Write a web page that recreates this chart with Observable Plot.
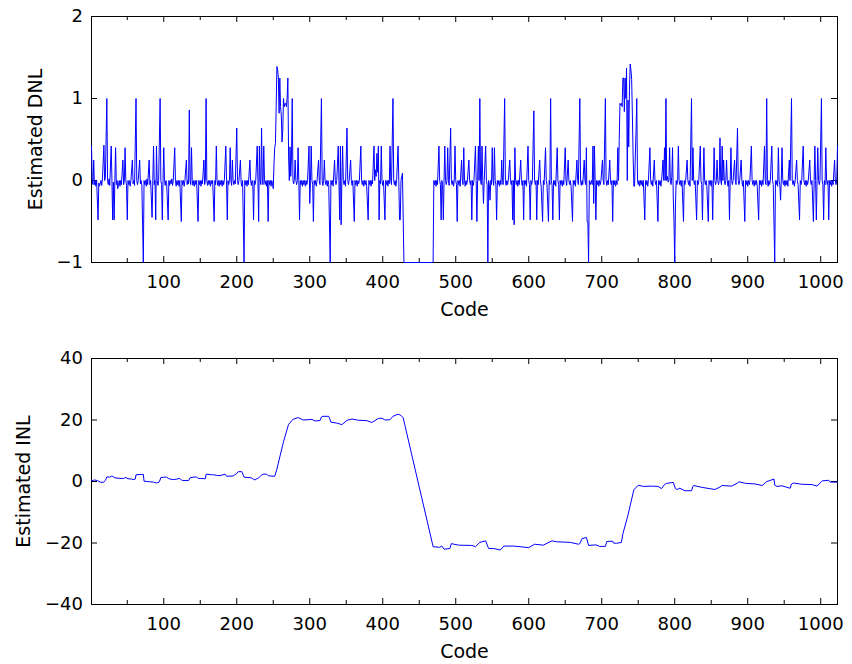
<!DOCTYPE html>
<html>
<head>
<meta charset="utf-8">
<script src="https://cdn.jsdelivr.net/npm/d3@7"></script>
<script src="https://cdn.jsdelivr.net/npm/@observablehq/plot@0.6"></script>
<style>
  html, body { margin: 0; padding: 0; background: #fff; }
  #chart { width: 852px; height: 664px; }
  #chart svg { display: block; }
</style>
</head>
<body>
<div id="chart"></div>
<script>
// ---- axis values ----
const xDomain = [1, 1023];
const xLabelTicks = [100, 200, 300, 400, 500, 600, 700, 800, 900, 1000];
const xMinorTicks = [50, 150, 250, 350, 450, 550, 650, 750, 850, 950];
const dnlDomain = [-1, 2];
const dnlTicks = [-1, 0, 1, 2];
const inlDomain = [-40, 40];
const inlTicks = [-40, -20, 0, 20, 40];
const xTitle = "Code";
const dnlTitle = "Estimated DNL";
const inlTitle = "Estimated INL";

// ---- estimated DNL, [code, value] vertices ----
const dnlPoints = [
[1,0.42],[2,0],[3,-0.05],[4,0.25],[5,-0.05],[6,0],[7,-0.07],[8,0],[10,-0.48],[11,-0.03],[12,-0.07],[14,0],[15,-0.06],[16,0.02],[18,0.43],[19,0],[20,0.03],[22,1.0],[23,0],[24,-0.05],[25,0.02],[26,-0.06],[28,0.42],[29,0],[30,-0.48],[31,-0.02],[32,-0.48],[33,0],[34,0.4],[35,-0.05],[36,0],[37,-0.1],[38,-0.04],[39,0],[40,-0.07],[41,0],[42,-0.05],[44,0.25],[45,-0.05],[46,0],[47,0.4],[48,0],[49,-0.06],[50,-0.48],[51,0],[52,-0.05],[53,0],[54,-0.07],[55,0],[57,0.25],[58,-0.04],[59,0],[60,-0.06],[62,1.0],[63,0],[64,-0.05],[65,0],[67,0.25],[68,-0.04],[69,0],[70,-0.06],[72,-1.0],[73,0],[74,-0.05],[75,0],[76,-0.07],[77,0.02],[78,-0.05],[80,0.25],[81,-0.05],[82,0],[84,-0.45],[85,0],[86,0.42],[87,-0.05],[88,0],[89,-0.48],[90,0.42],[91,0],[92,-0.06],[93,0],[95,1.0],[96,0],[97,-0.05],[98,-0.48],[99,0],[100,0.4],[101,0],[102,-0.06],[103,0],[104,-0.04],[106,-0.48],[107,0],[108,-0.06],[109,0],[110,-0.04],[111,0.02],[112,-0.06],[113,0],[115,0.4],[116,0],[117,-0.07],[118,0],[119,-0.05],[120,0],[121,-0.07],[122,0],[124,-0.5],[125,0],[126,-0.05],[127,0],[128,-0.07],[129,0],[131,0.25],[132,-0.05],[133,0],[134,-0.04],[135,0.86],[136,0],[137,-0.05],[138,0.4],[139,0],[140,-0.06],[141,0],[142,-0.07],[143,0],[144,-0.05],[145,0],[147,-0.5],[148,0],[149,-0.05],[150,0],[151,-0.07],[152,0],[153,-0.04],[155,0.25],[156,-0.05],[157,0],[158,1.0],[159,0],[160,-0.06],[161,0],[162,-0.05],[163,0],[164,-0.07],[165,0],[166,-0.04],[167,0],[169,-0.5],[170,0],[171,-0.05],
[172,0.42],[173,0],[174,-0.06],[175,0],[176,-0.07],[177,0],[178,-0.05],[179,0],[180,-0.07],[181,0],[182,-0.05],[183,0],[185,0.42],[186,0],[187,-0.48],[188,0],[189,-0.05],[190,0],[191,0.4],[192,0],[193,-0.06],[194,0.25],[195,0],[196,-0.05],[197,0],[198,-0.04],[200,0.64],[201,0],[202,-0.05],[203,0],[205,0.25],[206,-0.03],[207,-0.07],[208,0],[210,-1.0],[211,0],[212,-0.05],[213,0],[214,-0.07],[215,0],[216,-0.05],[218,0.25],[219,0],[220,-0.06],[221,0],[222,-0.04],[223,-0.48],[224,0],[225,-0.05],[226,0],[228,0.42],[229,0],[230,-0.5],[231,0.42],[232,0],[233,-0.05],[234,0.64],[235,0],[236,-0.05],[237,0.42],[238,0],[239,-0.05],[240,0],[241,-0.07],[242,0],[243,-0.5],[244,0],[245,-0.05],[246,0],[247,-0.07],[248,0],[249,-0.04],[250,-0.1],[251,0.2],[252,0.4],[253,0.45],[254,0.9],[255,1.39],[256,1.35],[257,1.25],[258,0.82],[259,1.25],[260,0.9],[261,0.8],[262,0.47],[263,0.6],[264,1.0],[265,0.9],[266,0.94],[267,0.94],[268,0.9],[269,1.0],[270,1.25],[271,0.3],[272,0],[273,0.41],[274,0.05],[275,0.3],[276,1.0],[277,0],[278,-0.04],[279,0.02],[280,0.25],[281,0],[282,-0.05],[283,0],[284,0.4],[285,0],[286,-0.48],[287,0],[288,-0.05],[289,0],[290,-0.07],[291,0],[292,-0.05],[293,0],[294,-0.07],[295,0],[296,-0.05],[297,0],[299,0.42],[300,-0.28],[301,0],[302,0.42],[303,0],[304,-0.05],[305,-0.5],[306,0],[307,-0.05],[308,0],[309,-0.07],[310,0],[312,0.25],[313,0],[314,-0.05],[316,1.0],[317,0],[318,-0.06],[319,0],[320,0.25],[321,0],[322,-0.05],[323,0],[324,-0.07],[325,0],[326,-0.05],[328,-1.0],[329,0],[330,-0.05],[331,0],[332,-0.07],[334,0.25],[335,0],[336,-0.05],[337,0],
[339,0.42],[340,0],[341,-0.48],[342,0.42],[343,-0.54],[344,0],[345,0.42],[346,0],[347,-0.05],[348,0],[349,-0.07],[351,0.64],[352,0],[353,-0.05],[354,0],[356,0.25],[357,0],[358,-0.06],[359,0],[361,-0.5],[362,0],[363,-0.05],[364,0],[365,-0.07],[366,0],[367,-0.04],[368,0],[370,0.42],[371,0],[372,-0.05],[373,0],[374,-0.07],[375,0],[376,-0.05],[377,0],[378,-0.07],[380,-0.48],[381,0],[382,-0.05],[383,0],[384,-0.07],[385,0],[386,-0.04],[388,0.42],[389,0],[390,0.13],[391,0.05],[392,0.33],[393,0.1],[394,0.42],[395,-0.48],[396,0],[397,-0.04],[398,0.42],[399,0],[400,-0.06],[401,0],[403,-0.48],[404,0],[405,-0.05],[406,0],[407,-0.07],[408,0],[409,-0.04],[410,0.42],[411,0],[412,-0.05],[414,1.0],[415,0],[416,-0.05],[417,0],[418,-0.07],[419,0],[421,0.42],[422,0],[423,-0.48],[424,-0.48],[425,0],[427,0.09],[429,-1.0],[469,-1.0],[470,0],
[471,-0.05],[472,0],[473,-0.07],[474,0],[475,-0.05],[477,0.42],[478,0],[479,-0.05],[480,-0.48],[481,0],[482,-0.05],[483,-0.48],[484,0],[485,0.42],[486,0],[487,-0.05],[488,0],[489,0.4],[490,0],[491,-0.06],[493,0.64],[494,0],[495,-0.05],[496,0],[497,-0.07],[498,0],[499,0.42],[500,0],[501,-0.05],[502,-0.5],[503,0],[504,-0.05],[505,0],[506,-0.07],[508,0.25],[509,0],[510,-0.05],[511,0.4],[512,0],[513,-0.07],[514,0],[515,-0.05],[516,0],[518,0.25],[519,0],[520,-0.05],[521,0],[522,-0.48],[523,0],[524,-0.06],[525,0],[527,0.42],[528,0],[529,-0.5],[530,0],[531,0.42],[532,0],[533,1.0],[534,0],[535,-0.05],[536,0.42],[537,0],[538,-0.28],[539,0],[541,0.42],[542,0],[543,-0.05],[544,-1.0],[545,0],[546,-0.05],[547,-0.24],[548,0],[549,-0.05],[550,0.4],[551,0],[552,-0.06],[553,0.4],[554,0],[555,-0.05],[556,-0.48],[557,0],[558,-0.05],[559,0],[560,-0.07],[561,0],[562,-0.05],[563,0.25],[564,0],[565,-0.05],[567,1.0],[568,0],[569,-0.06],[570,0],[571,-0.05],[572,0],[574,0.25],[575,0],[576,-0.05],[577,0],[578,-0.48],[579,0],[580,-0.54],[581,0.4],[582,0],[583,-0.05],[584,0],[585,-0.07],[586,0],[587,-0.05],[589,0.25],[590,0],[591,-0.06],[592,0],[593,-0.48],[594,0],[595,-0.05],[596,0],[597,-0.07],[599,0.42],[600,0],[601,-0.05],[602,-0.48],[603,0],[604,-0.05],[605,0],[607,0.85],[608,0],[609,-0.05],[610,0],[611,-0.48],[612,0],[613,-0.05],[615,0.25],[616,0],[617,-0.07],[619,-0.5],[620,0],[621,-0.05],[623,0.4],[624,0],[625,-0.05],[627,-0.5],[628,0],[629,-0.05],[630,1.0],[631,0],[632,-0.06],[633,-0.48],[634,0],[635,-0.05],[636,0],[637,-0.07],[639,0.4],[640,0],[641,-0.05],[642,-0.48],[643,0],[644,-0.05],[645,0],[646,-0.07],[647,0],[648,-0.05],[650,0.4],[651,0],[652,-0.06],[654,0.25],[655,0],[656,-0.05],[657,0],[658,-0.07],[660,-0.5],[661,0],[662,-0.05],[663,0],[664,-0.07],[666,0.25],[667,0],[668,-0.05],[670,1.0],[671,0],[672,-0.06],[673,0],[674,-0.05],[676,0.25],[677,0],[678,-0.05],[679,0.4],[680,-0.5],[681,-0.5],[682,-1.0],[683,0],[684,-0.05],[686,0],[687,-0.05],[688,0.42],[689,-0.28],[690,0.42],[691,0],[692,-0.48],[693,0],[694,-0.05],[695,0],[696,-0.07],[697,0],[698,-0.05],[699,0],[701,0.25],[702,0],[703,-0.05],[705,1.0],[706,0],[707,-0.06],[708,0],[709,-0.05],[711,0.25],[712,0],[713,-0.05],[714,0],[715,-0.5],[716,0],[717,-0.05],[718,0],[719,-0.07],[720,0],[721,-0.05],
[722,0.4],[723,0],[724,0.5],[725,0.94],[726,0.92],[727,0.94],[728,0.9],[729,1.25],[730,1.25],[731,0.84],[732,1.25],[733,1.0],[734,1.37],[735,0],[736,0.98],[737,0.41],[738,1.1],[739,1.42],[740,1.35],[741,1.23],[742,0.8],[743,0.3],[744,-0.07],[745,-0.07],[746,0.3],[747,0.6],[748,1.0],[749,0],[750,-0.05],[751,0],[752,-0.07],[753,0],[754,-0.05],[755,0],[756,-0.07],[757,0],[759,-0.48],[760,0],[761,-0.05],[762,0],[763,-0.07],[764,0],[766,0.4],[767,0],[768,-0.05],[769,0],[770,-0.07],[772,0.25],[773,0],[774,-0.05],[775,0],[777,-0.5],[778,0],[779,-0.05],[780,0],[781,-0.07],[782,0],[784,0.25],[785,0],[786,0.4],[787,0],[788,1.0],[789,0],[790,0.05],[791,-0.02],[792,0],[793,0.4],[794,0],[795,-0.05],[796,0.05],[797,0.4],[798,-0.2],[799,-0.5],[800,-1.0],[801,-0.3],[802,0],[803,-0.05],[804,0],[805,0.42],[806,0],[807,-0.05],[808,0],[809,-0.07],[810,0],[812,-0.5],[813,0],[814,-0.05],[815,0],[817,0.25],[818,0],[819,-0.05],[820,0],[821,-0.07],[823,1.0],[824,0],[825,0.4],[826,0],[827,-0.05],[828,0],[830,-0.48],[831,0],[832,-0.05],[833,0],[835,0.42],[836,0],[837,-0.05],[838,-0.48],[839,0],[840,0.4],[841,0],[842,-0.05],[843,0],[844,-0.07],[846,-0.5],[847,0],[848,-0.05],[849,0],[850,-0.07],[851,0],
[852,-0.48],[853,0],[854,0.4],[855,0],[856,-0.05],[857,0],[858,0.25],[859,0],[860,-0.05],[861,0],[862,0.52],[863,0],[864,-0.05],[865,0.42],[866,0],[867,0.25],[868,0],[869,-0.05],[870,0],[871,0.25],[872,0],[873,-0.07],[874,0],[875,-0.48],[876,0],[877,0.4],[878,0],[879,-0.05],[880,0],[882,0.25],[883,0],[884,-0.05],[886,0.64],[887,0],[888,-0.05],[889,0],[891,0.25],[892,0],[893,-0.07],[894,0],[896,-0.5],[897,0],[898,-0.05],[899,0],[900,-0.07],[901,0],[902,-0.05],[903,0],[905,0.42],[906,0],[907,-0.05],[908,0],[909,-0.07],[910,0],[911,-0.05],[912,0],[913,-0.07],[915,-0.48],[916,0],[917,-0.05],[918,0],[919,-0.07],[920,0],[921,-0.05],[923,0.42],[924,0],[925,-0.05],[926,1.0],[927,0],[928,-0.07],[929,0],[930,-0.05],[931,0],[933,0.42],[934,0],[935,-0.05],[937,-1.0],[938,0],[939,-0.05],[940,0],[941,-0.07],[942,0.4],[943,0],[944,-0.05],[945,-0.24],[946,0],[947,0.4],[948,0],[949,-0.05],[950,0],[951,-0.07],[952,0],[953,-0.05],[954,0],[955,-0.07],[957,0.25],[958,0],[960,1.0],[961,0],[962,-0.05],[963,0],[964,-0.07],[965,0],[967,0.25],[968,0],[969,-0.05],[971,-0.48],[972,0],[973,-0.05],[974,0],[976,0.42],[977,0],[978,-0.05],[979,0],[980,-0.07],[981,0],[982,-0.05],[983,0],[985,0.25],[986,0],[987,-0.05],[988,0],[990,-0.5],[991,0],[992,0.42],[993,0],[994,-0.48],[995,0],[996,0.4],[997,0],[998,-0.05],[999,0],[1001,1.0],[1002,0],[1003,-0.05],[1004,-0.48],[1005,0],[1006,-0.05],[1007,0.4],[1008,0],[1009,-0.05],[1010,0],[1011,-0.48],[1012,0],[1013,-0.05],[1014,0],[1015,-0.07],[1016,0],[1017,-0.05],[1019,0.25],[1020,0],[1021,-0.05],[1022,0],[1023,0.42]
];

// ---- estimated INL, [code, value] vertices ----
const inlPoints = [
[1,0.2],[5,0.5],[9,0.3],[13,-0.2],[17,-0.3],[20,0.3],[22,1.5],[26,1.4],[29,1.8],[33,1.2],[40,1.0],[45,1.0],[48,1.3],[51,0.9],[56,0.8],[58,0.6],[61,0.8],[62,2.2],[70,2.3],[72,2.3],[73,0.1],[81,-0.1],[86,-0.2],[90,-0.5],[94,-0.1],[96,1.3],[100,1.4],[104,1.4],[107,0.9],[113,0.6],[118,0.8],[122,1.0],[124,0.5],[126,0.3],[134,0.3],[136,1.2],[140,1.4],[145,1.5],[147,1.0],[150,1.0],[157,0.9],[158,2.4],[165,2.2],[168,2.2],[172,2.0],[177,1.9],[184,2.4],[186,1.7],[195,1.8],[200,2.6],[202,3.2],[207,3.2],[210,1.4],[220,1.2],[223,0.7],[225,0.5],[228,1.0],[230,1.2],[234,2.1],[237,2.4],[241,2.4],[243,1.9],[245,1.8],[252,1.7],[255,4.0],[259,8.0],[264,12.9],[271,18.6],[277,20.2],[284,20.8],[291,20.0],[303,20.2],[307,19.7],[314,19.8],[316,21.0],[318,21.2],[326,21.2],[328,20.0],[329,19.3],[337,19.0],[344,18.5],[351,19.9],[358,20.3],[367,19.9],[378,19.8],[385,19.2],[394,20.5],[399,20.6],[403,20.0],[410,20.1],[414,21.2],[421,21.9],[425,21.5],[428,20.7],
[469,-21.2],[478,-21.4],[481,-21.0],[484,-22.0],[492,-21.8],[494,-20.2],[504,-20.7],[522,-20.8],[527,-21.2],[533,-19.8],[541,-19.3],[545,-21.8],[552,-21.8],[561,-22.3],[566,-21.0],[579,-21.0],[588,-21.2],[600,-21.5],[608,-20.4],[620,-20.7],[625,-20.1],[632,-19.3],[638,-19.6],[657,-19.8],[668,-20.4],[670,-20.2],[673,-18.6],[679,-18.2],[682,-20.8],[692,-20.6],[697,-21.1],[705,-21.1],[707,-19.5],[715,-19.4],[716,-20.0],[720,-20.1],[727,-19.8],[729,-17.0],[736,-10.9],[744,-2.7],[750,-1.2],[757,-1.6],[768,-1.5],[777,-1.6],[782,-2.3],[786,-1.0],[789,-0.6],[798,-0.3],[801,-2.3],[803,-2.6],[807,-2.2],[814,-3.0],[823,-3.0],[825,-1.5],[826,-1.3],[837,-1.9],[855,-2.6],[862,-1.8],[865,-1.3],[878,-1.5],[886,-0.5],[888,-0.1],[897,-0.6],[910,-0.8],[920,-1.3],[926,0.0],[929,0.2],[936,0.8],[937,-1.2],[940,-1.6],[947,-1.4],[958,-2.2],[960,-0.8],[963,-0.5],[974,-0.9],[988,-1.0],[995,-1.5],[1001,0.0],[1002,0.2],[1011,0.4],[1013,-0.2],[1018,-0.2],[1023,-0.2]
];

const fmt = d => d < 0 ? "\u2212" + Math.abs(d) : String(d);
const W = 852, ML = 91, MR = 15;

function panel({height, marginTop, marginBottom, yDomain, yTicks, yTitle, yTitleDx, points}) {
  const ih = height - marginTop - marginBottom;
  const iw = W - ML - MR;
  return Plot.plot({
    width: W, height, marginLeft: ML, marginRight: MR, marginTop, marginBottom,
    style: {fontFamily: "'DejaVu Sans', sans-serif", fontSize: "18px", color: "#000", background: "#fff", overflow: "visible"},
    x: {domain: xDomain},
    y: {domain: yDomain},
    marks: [
      Plot.frame({stroke: "#000", strokeWidth: 1}),
      // inward ticks: bottom & top, major and minor
      Plot.tickX(xLabelTicks, {x: d => d, insetTop: ih - 6, stroke: "#000"}),
      Plot.tickX(xLabelTicks, {x: d => d, insetBottom: ih - 6, stroke: "#000"}),
      Plot.tickX(xMinorTicks, {x: d => d, insetTop: ih - 4, stroke: "#000"}),
      Plot.tickX(xMinorTicks, {x: d => d, insetBottom: ih - 4, stroke: "#000"}),
      // inward ticks: left & right
      Plot.tickY(yTicks, {y: d => d, insetRight: iw - 6, stroke: "#000"}),
      Plot.tickY(yTicks, {y: d => d, insetLeft: iw - 6, stroke: "#000"}),
      Plot.axisX(xLabelTicks, {anchor: "bottom", tickSize: 0, tickPadding: 13, label: null, tickFormat: fmt, fontSize: 18}),
      Plot.axisY(yTicks, {anchor: "left", tickSize: 0, tickPadding: 8.5, label: null, tickFormat: fmt, fontSize: 18}),
      Plot.line(points, {x: d => d[0], y: d => d[1], stroke: "#0000ff", strokeWidth: 1}),
      Plot.text([yTitle], {text: d => d, frameAnchor: "left", dx: yTitleDx, rotate: -90, textAnchor: "middle", lineAnchor: "middle", fontSize: 19, fill: "#000"}),
      Plot.text([xTitle], {text: d => d, frameAnchor: "bottom", dy: 47.5, textAnchor: "middle", lineAnchor: "middle", fontSize: 19, fill: "#000"})
    ]
  });
}

const chart = document.getElementById("chart");
chart.append(panel({height: 330, marginTop: 16, marginBottom: 68, yDomain: dnlDomain, yTicks: dnlTicks, yTitle: dnlTitle, yTitleDx: -56, points: dnlPoints}));
chart.append(panel({height: 334, marginTop: 28, marginBottom: 60, yDomain: inlDomain, yTicks: inlTicks, yTitle: inlTitle, yTitleDx: -67.5, points: inlPoints}));
</script>
</body>
</html>
